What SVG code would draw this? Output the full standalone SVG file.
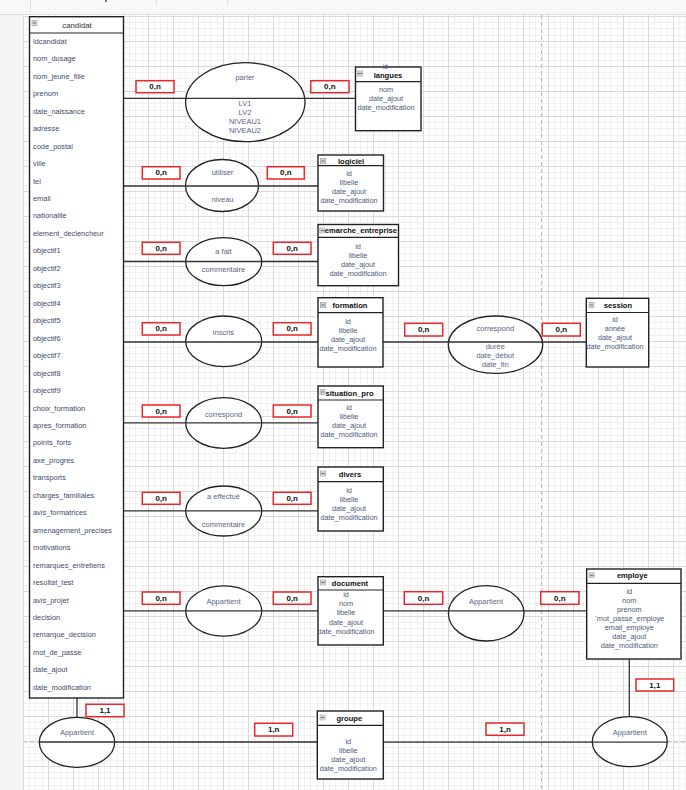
<svg xmlns="http://www.w3.org/2000/svg" width="686" height="790" viewBox="0 0 686 790">
<style>
.ent{fill:#fff;stroke:#222;stroke-width:1.4}
.hd{stroke:#222;stroke-width:1.2}
.ttl{font-family:"Liberation Sans",Arial,sans-serif;font-size:7.6px;font-weight:bold;fill:#111;text-anchor:middle;dominant-baseline:central}
.att{font-family:"Liberation Sans",Arial,sans-serif;font-size:7.3px;fill:#4b5a7d;text-anchor:middle;dominant-baseline:central}
.catt{font-family:"Liberation Sans",Arial,sans-serif;font-size:7.4px;fill:#3e4b6e;dominant-baseline:central}
.ell{fill:#fff;stroke:#222;stroke-width:1.3}
.elab{font-family:"Liberation Sans",Arial,sans-serif;font-size:7.5px;fill:#5a6688;text-anchor:middle;dominant-baseline:central}
.ln{stroke:#333;stroke-width:1.3;fill:none}
.card{fill:#fff;stroke:#e8262b;stroke-width:1.5}
.ct{font-family:"Liberation Sans",Arial,sans-serif;font-size:8px;font-weight:bold;fill:#111;text-anchor:middle;dominant-baseline:central}
.pb{stroke:#bdbdbd;stroke-width:1;stroke-dasharray:4 3;fill:none}
</style>
<defs>
<pattern id="grid" x="23" y="16" width="25" height="25" patternUnits="userSpaceOnUse">
<rect width="25" height="25" fill="#fff"/>
<rect x="6" y="0" width="1" height="25" fill="#f1f1f1"/>
<rect x="12" y="0" width="1" height="25" fill="#f1f1f1"/>
<rect x="19" y="0" width="1" height="25" fill="#f1f1f1"/>
<rect x="0" y="6" width="25" height="1" fill="#f1f1f1"/>
<rect x="0" y="12" width="25" height="1" fill="#f1f1f1"/>
<rect x="0" y="19" width="25" height="1" fill="#f1f1f1"/>
<rect x="0" y="0" width="1" height="25" fill="#dadada"/>
<rect x="0" y="0" width="25" height="1" fill="#dadada"/>
</pattern>
<symbol id="ico" viewBox="0 0 6 6" width="6" height="6">
<rect x="0.3" y="0.3" width="5.4" height="5.4" fill="#d4d4d4" stroke="#9a9a9a" stroke-width="0.6"/>
<line x1="1.3" y1="3" x2="4.7" y2="3" stroke="#666" stroke-width="0.9"/>
</symbol>
</defs>

<!-- background / chrome -->
<rect x="0" y="0" width="686" height="790" fill="#f5f5f6"/>
<rect x="0" y="0" width="686" height="14" fill="#f8f8f8"/>
<line x1="0" y1="14.5" x2="686" y2="14.5" stroke="#dedede"/>
<line x1="30.5" y1="0" x2="30.5" y2="12" stroke="#e0e0e0"/>
<line x1="156.5" y1="0" x2="156.5" y2="5" stroke="#e0e0e0"/>
<line x1="227.5" y1="0" x2="227.5" y2="5" stroke="#e0e0e0"/>
<rect x="105" y="0" width="2" height="2" fill="#777"/>
<rect x="23" y="15" width="663" height="775" fill="url(#grid)"/>
<line class="pb" x1="541.5" y1="15" x2="541.5" y2="790"/>
<line class="pb" x1="23" y1="742" x2="686" y2="742"/>

<!-- relationship ellipses -->
<g id="parler"><ellipse class="ell" cx="245.3" cy="102.2" rx="59.7" ry="39.5"/>
<text class="elab" x="245" y="77.7">parler</text><text class="elab" x="245" y="103.3">LV1</text><text class="elab" x="245" y="112.4">LV2</text><text class="elab" x="245" y="121.5">NIVEAU1</text><text class="elab" x="245" y="130.6">NIVEAU2</text></g>
<g id="utiliser"><ellipse class="ell" cx="222" cy="185.5" rx="36.5" ry="26"/>
<text class="elab" x="222.5" y="172.3">utiliser</text><text class="elab" x="222.5" y="199.3">niveau</text></g>
<g id="afait"><ellipse class="ell" cx="223.7" cy="261.7" rx="38" ry="24"/>
<text class="elab" x="223.5" y="251">a fait</text><text class="elab" x="223.5" y="269.3">commentaire</text></g>
<g id="inscris"><ellipse class="ell" cx="223.7" cy="341.3" rx="38" ry="25.3"/>
<text class="elab" x="223.5" y="332.3">inscris</text></g>
<g id="correspond_session"><ellipse class="ell" cx="495.5" cy="344.7" rx="47.2" ry="28.7"/>
<text class="elab" x="495.3" y="328.3">correspond</text><text class="elab" x="495.3" y="346.7">durée</text><text class="elab" x="495.3" y="355.7">date_début</text><text class="elab" x="495.3" y="364.7">date_fin</text></g>
<g id="correspond"><ellipse class="ell" cx="223.7" cy="423" rx="38" ry="25.3"/>
<text class="elab" x="223.5" y="414.3">correspond</text></g>
<g id="aeffectue"><ellipse class="ell" cx="223.7" cy="511" rx="38" ry="25"/>
<text class="elab" x="223.5" y="496.7">a effectué</text><text class="elab" x="223.5" y="524.3">commentaire</text></g>
<g id="appartient1"><ellipse class="ell" cx="223.7" cy="611" rx="38" ry="25.2"/>
<text class="elab" x="223.5" y="601.7">Appartient</text></g>
<g id="appartient2"><ellipse class="ell" cx="486.2" cy="613.3" rx="37.8" ry="27.7"/>
<text class="elab" x="486" y="601.7">Appartient</text></g>
<g id="appartient3"><ellipse class="ell" cx="629.8" cy="741.7" rx="37.5" ry="25"/>
<text class="elab" x="629.8" y="732.7">Appartient</text></g>
<g id="appartient4"><ellipse class="ell" cx="77" cy="742.3" rx="37.7" ry="25"/>
<text class="elab" x="77" y="732.3">Appartient</text></g>

<!-- connectors -->
<g id="connectors">
<path class="ln" d="M123,98.3 H355.5"/>
<path class="ln" d="M123,186 H318"/>
<path class="ln" d="M123,261.5 H318"/>
<path class="ln" d="M123,342 H318"/>
<path class="ln" d="M383,342 H586.3"/>
<path class="ln" d="M123,422.8 H318"/>
<path class="ln" d="M123,510.8 H318"/>
<path class="ln" d="M123,610.8 H318"/>
<path class="ln" d="M383,610.8 H586.7"/>
<path class="ln" d="M77,698 V717.3"/>
<path class="ln" d="M39.3,742 H317.3"/>
<path class="ln" d="M383.3,742.2 H667.3"/>
<path class="ln" d="M629.3,659 V716.7"/>
<g id="cards">
<rect class="card" x="136" y="80.7" width="38" height="12"/><text class="ct" x="155" y="86.7">0,n</text>
<rect class="card" x="310.7" y="80.7" width="38.3" height="12"/><text class="ct" x="329.8" y="86.7">0,n</text>
<rect class="card" x="142.3" y="166.7" width="37.7" height="12.3"/><text class="ct" x="161.2" y="172.8">0,n</text>
<rect class="card" x="267.3" y="166.7" width="37" height="12.3"/><text class="ct" x="285.8" y="172.8">0,n</text>
<rect class="card" x="142.3" y="242.3" width="37.7" height="12"/><text class="ct" x="161.2" y="248.3">0,n</text>
<rect class="card" x="273.3" y="242.3" width="37.7" height="12"/><text class="ct" x="292.2" y="248.3">0,n</text>
<rect class="card" x="142.3" y="322.7" width="37.7" height="12.3"/><text class="ct" x="161.2" y="328.8">0,n</text>
<rect class="card" x="273.3" y="322.7" width="37.7" height="12.3"/><text class="ct" x="292.2" y="328.8">0,n</text>
<rect class="card" x="404.7" y="323.3" width="38" height="12.7"/><text class="ct" x="423.7" y="329.6">0,n</text>
<rect class="card" x="542.3" y="323.3" width="38" height="12.7"/><text class="ct" x="561.3" y="329.6">0,n</text>
<rect class="card" x="142.3" y="405" width="37.7" height="12"/><text class="ct" x="161.2" y="411">0,n</text>
<rect class="card" x="273.3" y="405" width="37.7" height="12"/><text class="ct" x="292.2" y="411">0,n</text>
<rect class="card" x="142.3" y="492.3" width="37.7" height="12"/><text class="ct" x="161.2" y="498.3">0,n</text>
<rect class="card" x="273.3" y="492.3" width="37.7" height="12"/><text class="ct" x="292.2" y="498.3">0,n</text>
<rect class="card" x="142.3" y="592" width="37.7" height="12.3"/><text class="ct" x="161.2" y="598.1">0,n</text>
<rect class="card" x="273.3" y="592" width="37.7" height="12.3"/><text class="ct" x="292.2" y="598.1">0,n</text>
<rect class="card" x="404.3" y="591.7" width="38.4" height="12.6"/><text class="ct" x="423.5" y="598">0,n</text>
<rect class="card" x="540.7" y="591.7" width="38.3" height="12.6"/><text class="ct" x="559.8" y="598">0,n</text>
<rect class="card" x="636" y="679" width="37.7" height="12"/><text class="ct" x="654.8" y="685">1,1</text>
<rect class="card" x="86" y="704.3" width="38" height="12.4"/><text class="ct" x="105" y="710.5">1,1</text>
<rect class="card" x="254.7" y="723.3" width="38" height="12.7"/><text class="ct" x="273.7" y="729.6">1,n</text>
<rect class="card" x="486" y="723" width="38" height="12.3"/><text class="ct" x="505" y="729.2">1,n</text>
</g>
</g>

<!-- entities -->
<g id="candidat">
<rect class="ent" x="29.5" y="16.7" width="94" height="681.3"/>
<line class="hd" x1="29.5" y1="33" x2="123.5" y2="33"/>
<use href="#ico" x="31.5" y="20"/>
<text x="77" y="25" font-family="Liberation Sans, Arial, sans-serif" font-size="7.8" fill="#333" text-anchor="middle" dominant-baseline="central">candidat</text>
<text class="catt" x="33" y="41.3">idcandidat</text>
<text class="catt" x="33" y="58.8">nom_dusage</text>
<text class="catt" x="33" y="76.2">nom_jeune_fille</text>
<text class="catt" x="33" y="93.7">prenom</text>
<text class="catt" x="33" y="111.1">date_naissance</text>
<text class="catt" x="33" y="128.6">adresse</text>
<text class="catt" x="33" y="146.1">code_postal</text>
<text class="catt" x="33" y="163.5">ville</text>
<text class="catt" x="33" y="181">tel</text>
<text class="catt" x="33" y="198.4">email</text>
<text class="catt" x="33" y="215.9">nationalite</text>
<text class="catt" x="33" y="233.4">element_declencheur</text>
<text class="catt" x="33" y="250.8">objectif1</text>
<text class="catt" x="33" y="268.3">objectif2</text>
<text class="catt" x="33" y="285.7">objectif3</text>
<text class="catt" x="33" y="303.2">objectif4</text>
<text class="catt" x="33" y="320.7">objectif5</text>
<text class="catt" x="33" y="338.1">objectif6</text>
<text class="catt" x="33" y="355.6">objectif7</text>
<text class="catt" x="33" y="373">objectif8</text>
<text class="catt" x="33" y="390.5">objectif9</text>
<text class="catt" x="33" y="408">choix_formation</text>
<text class="catt" x="33" y="425.4">apres_formation</text>
<text class="catt" x="33" y="442.9">points_forts</text>
<text class="catt" x="33" y="460.3">axe_progres</text>
<text class="catt" x="33" y="477.8">transports</text>
<text class="catt" x="33" y="495.3">charges_familiales</text>
<text class="catt" x="33" y="512.7">avis_formatrices</text>
<text class="catt" x="33" y="530.2">amenagement_precises</text>
<text class="catt" x="33" y="547.6">motivations</text>
<text class="catt" x="33" y="565.1">remarques_entretiens</text>
<text class="catt" x="33" y="582.6">resultat_test</text>
<text class="catt" x="33" y="600">avis_projet</text>
<text class="catt" x="33" y="617.5">decision</text>
<text class="catt" x="33" y="634.9">remarque_decision</text>
<text class="catt" x="33" y="652.4">mot_de_passe</text>
<text class="catt" x="33" y="669.9">date_ajout</text>
<text class="catt" x="33" y="687.3">date_modification</text>
</g>

<g id="langues">
<rect class="ent" x="355.5" y="67" width="65.5" height="63.7"/>
<text class="att" x="385" y="66" style="font-size:6.5px">id</text>
<line class="hd" x1="355.5" y1="81.7" x2="421" y2="81.7"/>
<use href="#ico" x="357" y="70.5"/>
<text class="ttl" x="388" y="75">langues</text>
<text class="att" x="386" y="89.3">nom</text>
<text class="att" x="386" y="98.3">date_ajout</text>
<text class="att" x="386" y="107.3">date_modification</text>
</g>

<g id="logiciel">
<rect class="ent" x="318" y="155" width="65.5" height="56"/>
<line class="hd" x1="318" y1="165.7" x2="383.5" y2="165.7"/>
<use href="#ico" x="320" y="158"/>
<text class="ttl" x="351" y="161">logiciel</text>
<text class="att" x="349" y="173.3">id</text>
<text class="att" x="349" y="182.3">libelle</text>
<text class="att" x="349" y="191.3">date_ajout</text>
<text class="att" x="349" y="200.3">date_modification</text>
</g>

<g id="demarche_entreprise">
<rect class="ent" x="318" y="224.5" width="80.5" height="61.2"/>
<line class="hd" x1="318" y1="237.3" x2="398.5" y2="237.3"/>
<use href="#ico" x="319.3" y="227.5"/>
<text class="ttl" x="324.8" y="230.7" style="text-anchor:start">emarche_entreprise</text>
<text class="att" x="358" y="246.3">id</text>
<text class="att" x="358" y="255.3">libelle</text>
<text class="att" x="358" y="264.3">date_ajout</text>
<text class="att" x="358" y="273.3">date_modification</text>
</g>

<g id="formation">
<rect class="ent" x="318" y="297.7" width="65" height="69.3"/>
<line class="hd" x1="318" y1="312.7" x2="383" y2="312.7"/>
<use href="#ico" x="320" y="302"/>
<text class="ttl" x="350" y="305">formation</text>
<text class="att" x="348" y="321.3">id</text>
<text class="att" x="348" y="330.3">libelle</text>
<text class="att" x="348" y="339.3">date_ajout</text>
<text class="att" x="348" y="348.3">date_modification</text>
</g>

<g id="session">
<rect class="ent" x="586.3" y="298.3" width="62.4" height="68.7"/>
<line class="hd" x1="586.3" y1="312.5" x2="648.7" y2="312.5"/>
<use href="#ico" x="588.5" y="302"/>
<text class="ttl" x="618" y="305">session</text>
<text class="att" x="615" y="319.3">id</text>
<text class="att" x="615" y="328.3">année</text>
<text class="att" x="615" y="337.3">date_ajout</text>
<text class="att" x="615" y="346.3">date_modification</text>
</g>

<g id="situation_pro">
<rect class="ent" x="318" y="386" width="65.3" height="61.7"/>
<line class="hd" x1="318" y1="400" x2="383.3" y2="400"/>
<use href="#ico" x="319.5" y="389"/>
<text class="ttl" x="349.5" y="393">situation_pro</text>
<text class="att" x="349" y="407.3">id</text>
<text class="att" x="349" y="416.3">libelle</text>
<text class="att" x="349" y="425.4">date_ajout</text>
<text class="att" x="349" y="434.5">date_modification</text>
</g>

<g id="divers">
<rect class="ent" x="318" y="467" width="65.3" height="64"/>
<line class="hd" x1="318" y1="481.7" x2="383.3" y2="481.7"/>
<use href="#ico" x="320" y="470.5"/>
<text class="ttl" x="350" y="474">divers</text>
<text class="att" x="349" y="490">id</text>
<text class="att" x="349" y="499.2">libelle</text>
<text class="att" x="349" y="508.3">date_ajout</text>
<text class="att" x="349" y="517.3">date_modification</text>
</g>

<g id="document">
<rect class="ent" x="318" y="576.7" width="65.3" height="68.3"/>
<line class="hd" x1="318" y1="590" x2="383.3" y2="590"/>
<use href="#ico" x="320" y="579.5"/>
<text class="ttl" x="350" y="583">document</text>
<text class="att" x="346" y="594.3">id</text>
<text class="att" x="346" y="603.6">nom</text>
<text class="att" x="346" y="612.9">libelle</text>
<text class="att" x="346" y="622.2">date_ajout</text>
<text class="att" x="346" y="631.5">date_modification</text>
</g>

<g id="employe">
<rect class="ent" x="586.7" y="569" width="94.3" height="90"/>
<line class="hd" x1="586.7" y1="583.3" x2="681" y2="583.3"/>
<use href="#ico" x="588.7" y="572.3"/>
<text class="ttl" x="632.3" y="575.5">employe</text>
<text class="att" x="629.3" y="591.3">id</text>
<text class="att" x="629.3" y="600.3">nom</text>
<text class="att" x="629.3" y="609.3">prenom</text>
<text class="att" x="629.3" y="618.3">`mot_passe_employe</text>
<text class="att" x="629.3" y="627.3">email_employe</text>
<text class="att" x="629.3" y="636.3">date_ajout</text>
<text class="att" x="629.3" y="645.3">date_modification</text>
</g>

<g id="groupe">
<rect class="ent" x="317.3" y="711" width="66" height="68"/>
<line class="hd" x1="317.3" y1="725.3" x2="383.3" y2="725.3"/>
<use href="#ico" x="319.5" y="714.5"/>
<text class="ttl" x="349.3" y="718.3">groupe</text>
<text class="att" x="348.3" y="741">id</text>
<text class="att" x="348.3" y="750">libelle</text>
<text class="att" x="348.3" y="759">date_ajout</text>
<text class="att" x="348.3" y="768">date_modification</text>
</g>
</svg>
